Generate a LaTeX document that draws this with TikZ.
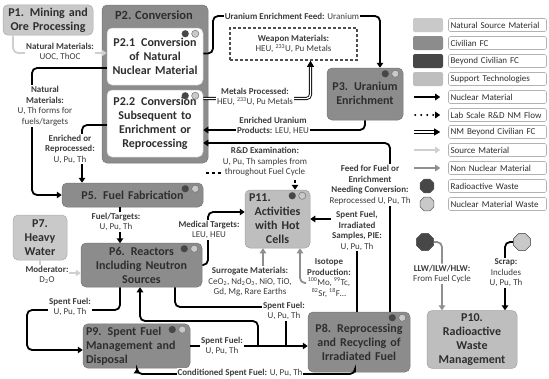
\documentclass[tikz,border=0pt]{standalone}
\usepackage{fontspec}
\setmainfont{Carlito}
\usepackage{xcolor}
\usepackage{tikz}
\usetikzlibrary{arrows.meta,shapes.geometric}

\definecolor{natsrc}{HTML}{C9C9C9}
\definecolor{civfc}{HTML}{8C8C8C}
\definecolor{beyondfc}{HTML}{474747}
\definecolor{supptech}{HTML}{BEBEBE}
\definecolor{srcmat}{HTML}{CFCFCF}
\definecolor{nonnuc}{HTML}{8F8F8F}
\definecolor{inktext}{HTML}{2E2E2E}
\definecolor{labeltext}{HTML}{3C3C3C}

% two status dots in the top right corner of a process box
\newcommand{\statusdots}[1]{%
	\fill[beyondfc] ([xshift=-18pt,yshift=-6pt]#1.north east) circle (3.6pt);
	\filldraw[fill=natsrc, draw=black!55, line width=0.5pt] ([xshift=-8pt,yshift=-6pt]#1.north east) circle (3.6pt);
}

\begin{document}
\begin{tikzpicture}[
		x=1pt, y=-1pt,
		box/.style={
			rounded corners=5pt,
			align=center,
			inner sep=3pt,
			line width=0.5pt,
			text=inktext,
			font=\fontsize{12}{14}\selectfont\bfseries
		},
		natbox/.style={box, fill=natsrc, draw=natsrc!85!black},
		civbox/.style={box, fill=civfc, draw=civfc!85!black},
		supbox/.style={box, fill=supptech, draw=supptech!85!black},
		subbox/.style={box, fill=white, draw=gray!45},
		lbl/.style={
			align=center,
			inner sep=1pt,
			fill=white,
			text=labeltext,
			font=\fontsize{9}{10.5}\selectfont
		},
		legtext/.style={
			draw=gray!60,
			rounded corners=2pt,
			fill=white,
			minimum height=13pt,
			text width=94pt,
			align=left,
			inner sep=2pt,
			line width=0.6pt,
			text=inktext,
			font=\fontsize{9}{10}\selectfont
		},
		swatch/.style={rounded corners=2pt, minimum width=30pt, minimum height=14pt, inner sep=0pt},
		wasteoct/.style={regular polygon, regular polygon sides=8, inner sep=0pt, draw=black!65, line width=0.6pt},
		nm/.style={-{Triangle[length=5pt,width=6.5pt]}, line width=1.8pt, rounded corners=5pt},
		nmline/.style={line width=1.8pt, rounded corners=5pt},
		nmbeyond/.style={-{Triangle[length=6pt,width=7pt]}, draw=black, double=white, double distance=1.3pt, line width=0.9pt, rounded corners=4pt},
		labflow/.style={-{Triangle[length=5pt,width=6.5pt]}, line width=1.8pt, dash pattern=on 3pt off 3pt},
		srcflow/.style={nm, draw=srcmat},
		nnflow/.style={nm, draw=nonnuc},
		nnline/.style={nmline, draw=nonnuc}
		]
		
		\useasboundingbox (0,0) rectangle (549,378);
		
		% Process boxes
		\node[natbox, text width=84pt, minimum height=30pt] (p1) at (48,20) {P1. Mining and\\Ore Processing};
		
		\node[civbox, minimum width=106pt, minimum height=158pt] (p2) at (155,84) {};
		\node[text=inktext, font=\fontsize{12.5}{14}\selectfont\bfseries, inner sep=0pt] (p2title) at (154,15) {P2. Conversion};
		\node[subbox, text width=90pt, minimum height=57pt] (p21) at (155,56.5) {P2.1\enspace Conversion\\of Natural\\Nuclear Material};
		\node[subbox, text width=90pt, minimum height=67pt] (p22) at (155,123.5) {P2.2\enspace Conversion\\Subsequent to\\Enrichment or\\Reprocessing};
		
		\node[draw=inktext!85, fill=white, line width=1.6pt, dash pattern=on 3pt off 2pt,
			minimum width=127pt, minimum height=32pt, align=center, inner sep=1pt,
			text=labeltext, font=\fontsize{9}{10.5}\selectfont] (wpn) at (293.5,44)
			{\textbf{Weapon Materials:}\\HEU, \textsuperscript{233}U, Pu Metals};
		
		\node[civbox, text width=70pt, minimum height=52pt] (p3) at (365,94) {\\[-7pt]P3. Uranium\\Enrichment};
		
		\node[civbox, text width=135pt, minimum height=24pt] (p5) at (132.5,195) {P5. Fuel Fabrication};
		\node[civbox, text width=115pt, minimum height=44pt] (p6) at (141.5,265) {P6. Reactors\\Including Neutron\\Sources};
		\node[natbox, text width=48pt, minimum height=45pt] (p7) at (40,237.5) {P7.\\Heavy\\Water};
		\node[supbox, text width=59pt, minimum height=58pt] (p11) at (277.5,219) {\makebox[57pt][l]{P11.}\\Activities\\with Hot\\Cells};
		\node[civbox, text width=101pt, minimum height=42pt, align=left] (p9) at (136.5,346) {P9. Spent Fuel\\Management and\\Disposal};
		\node[civbox, text width=96pt, minimum height=60pt] (p8) at (359,342) {P8. Reprocessing\\and Recycling of\\Irradiated Fuel};
		\node[supbox, text width=84pt, minimum height=55pt] (p10) at (472,339.5) {P10.\\Radioactive\\Waste\\Management};
		
		\statusdots{p21}
		\statusdots{p22}
		\statusdots{p3}
		\statusdots{p5}
		\statusdots{p6}
		\statusdots{p11}
		\statusdots{p9}
		\statusdots{p8}
		
		% Waste sources
		\node[wasteoct, fill=beyondfc, minimum size=18pt] (llw) at (425,242) {};
		\node[wasteoct, fill=natsrc, minimum size=18pt] (scrap) at (522,242) {};
		
		% Corner points
		\coordinate (feedtop) at (213,16);
		\coordinate (natcorner) at (32,130);
		\coordinate (medcorner) at (208,240);
		\coordinate (rdstart) at (206,173);
		\coordinate (sfcorner) at (27,310);
		\coordinate (sfjoin) at (258,346);
		\coordinate (sfdrop) at (286,346);
		\coordinate (backcorner) at (140,321);
		\coordinate (condcorner) at (137,374);
		\coordinate (surrtip) at ([xshift=-14.5pt]p11.south);
		
		% Connectors
		\draw[nm] ([yshift=3pt]p21.east) -| (feedtop) -| ([xshift=15pt]p3.north);
		\draw[nmbeyond] ([yshift=25pt]p22.east) -| ([xshift=17pt]wpn.south);
		\draw[nm] (p3.south) |- ([yshift=-6.5pt]p22.east);
		\draw[nm] ([xshift=31pt]p8.north) |- ([yshift=-19.5pt]p22.east);
		\draw[labflow] (rdstart) -| ([xshift=17.5pt]p11.north);
		\draw[srcflow] ([xshift=-35pt]p1.south) |- ([yshift=3.5pt]p21.west);
		\draw[nm] ([yshift=-11.5pt]p21.west) -| (natcorner) |- (p5.west);
		\draw[nm] ([yshift=-1.5pt]p22.west) -| ([xshift=-50.5pt]p5.north);
		\draw[nm] ([xshift=-12.5pt]p5.south) -- ++(0,36);
		\draw[srcflow] (p7.south) |- ([yshift=-8pt]p6.west);
		\draw[nm] (p6.east) -| (medcorner) |- ([yshift=7pt]p11.west);
		\draw[nm] ([xshift=-2pt]p8.north) |- (p11.east);
		\draw[nm] ([xshift=-21.5pt]p6.south) |- (sfcorner) |- ([yshift=-4pt]p9.west);
		\draw[nm] (p9.east) -- (p9.east -| p8.west);
		\draw[nm] (sfjoin) |- (backcorner) -- (backcorner |- p6.south);
		\draw[nm] ([xshift=-4pt]p8.south) |- (condcorner) -- (condcorner |- p9.south);
		
		% Labels
		\node[lbl] (feedlbl) at (292,16) {\textbf{Uranium Enrichment Feed:} Uranium};
		\node[lbl] (metlbl) at (255,97) {\textbf{Metals Processed:}\\HEU, \textsuperscript{233}U, Pu Metals};
		\node[lbl] (enrlbl) at (273,126) {\textbf{Enriched Uranium}\\\textbf{Products:} LEU, HEU};
		\node[lbl] (rdlbl) at (265,162) {\textbf{R\&D Examination:}\\U, Pu, Th samples from\\throughout Fuel Cycle};
		\node[lbl] (reflbl) at (370,185) {\textbf{Feed for Fuel or}\\\textbf{Enrichment}\\\textbf{Needing Conversion:}\\Reprocessed U, Pu, Th};
		\node[lbl] (uoclbl) at (60,52) {\textbf{Natural Materials:}\\UOC, ThOC};
		\node[lbl] (natlbl) at (45,106) {\textbf{Natural}\\\textbf{Materials:}\\U, Th forms for\\fuels/targets};
		\node[lbl] (erplbl) at (70,149) {\textbf{Enriched or}\\\textbf{Reprocessed:}\\U, Pu, Th};
		\node[lbl] (fuellbl) at (116,222) {\textbf{Fuel/Targets:}\\U, Pu, Th};
		\node[lbl] (medlbl) at (209,230) {\textbf{Medical Targets:}\\LEU, HEU};
		\node[lbl] (pielbl) at (357,231) {\textbf{Spent Fuel,}\\\textbf{Irradiated}\\\textbf{Samples, PIE:}\\U, Pu, Th};
		\node[lbl] (surr) at (250,282) {\textbf{Surrogate Materials:}\\CeO\textsubscript{2}, Nd\textsubscript{2}O\textsubscript{3}, NiO, TiO,\\Gd, Mg, Rare Earths};
		\node[lbl] (iso) at (329,278) {\textbf{Isotope}\\\textbf{Production:}\\\textsuperscript{100}Mo, \textsuperscript{99}Tc,\\\textsuperscript{82}Sr, \textsuperscript{18}F\ldots};
		\node[lbl] (modlbl) at (47,275) {\textbf{Moderator:}\\D\textsubscript{2}O};
		\node[lbl] (sf1lbl) at (70,307) {\textbf{Spent Fuel:}\\U, Pu, Th};
		\node[lbl] (sf2) at (284,311) {\textbf{Spent Fuel:}\\U, Pu, Th};
		\node[lbl] (sf3lbl) at (222,346) {\textbf{Spent Fuel:}\\U, Pu, Th};
		\node[lbl] (condlbl) at (240,373) {\textbf{Conditioned Spent Fuel:} U, Pu, Th};
		\node[lbl] (llwlbl) at (442,274) {\textbf{LLW/ILW/HLW:}\\From Fuel Cycle};
		\node[lbl] (scraplbl) at (506,273) {\textbf{Scrap:}\\Includes\\U, Pu, Th};
		
		% Connectors that end at labels
		\draw[nmline] ([xshift=33.5pt]p6.south) |- ([yshift=4pt]sf2.west);
		\draw[nmline] (sfdrop |- sf2.south) -- (sfdrop);
		\draw[nnflow] (surrtip |- surr.north) -- (surrtip);
		\draw[nnflow] ([yshift=-5pt]iso.west) -| ([xshift=22.5pt]p11.south);
		\draw[nnline] (llw) -| (llwlbl.north);
		\draw[nnflow] (llwlbl.south) -- (llwlbl.south |- p10.north);
		\draw[nmline] (scrap) -| ([xshift=-1pt]scraplbl.north);
		\draw[nm] ([xshift=-1pt]scraplbl.south) -- ([xshift=-1pt]scraplbl.south |- p10.north);
		\node[wasteoct, fill=beyondfc, minimum size=18pt] at (llw) {};
		\node[wasteoct, fill=natsrc, minimum size=18pt] at (scrap) {};
		
		% Legend
		\node[swatch, fill=natsrc] (swnat) at (428,25) {};
		\node[swatch, fill=civfc] (swciv) at (428,43) {};
		\node[swatch, fill=beyondfc] (swbey) at (428,61) {};
		\node[swatch, fill=supptech] (swsup) at (428,79) {};
		
		\node[legtext] (lgnat) at (497.5,25) {Natural Source Material};
		\node[legtext] (lgciv) at (497.5,43) {Civilian FC};
		\node[legtext] (lgbey) at (497.5,61) {Beyond Civilian FC};
		\node[legtext] (lgsup) at (497.5,79) {Support Technologies};
		\node[legtext] (lgnm) at (497.5,97) {Nuclear Material};
		\node[legtext] (lglab) at (497.5,115) {Lab Scale R\&D NM Flow};
		\node[legtext] (lgbnm) at (497.5,132) {NM Beyond Civilian FC};
		\node[legtext] (lgsrc) at (497.5,150) {Source Material};
		\node[legtext] (lgnon) at (497.5,168) {Non Nuclear Material};
		\node[legtext] (lgrw) at (497.5,186) {Radioactive Waste};
		\node[legtext] (lgnmw) at (497.5,204) {Nuclear Material Waste};
		
		\draw[nm] ([xshift=-34pt]lgnm.west) -- ([xshift=-8pt]lgnm.west);
		\draw[labflow, dash pattern=on 0pt off 6pt, line cap=round, line width=2.2pt] ([xshift=-33pt]lglab.west) -- ([xshift=-8pt]lglab.west);
		\draw[nmbeyond] ([xshift=-34pt]lgbnm.west) -- ([xshift=-8pt]lgbnm.west);
		\draw[srcflow] ([xshift=-34pt]lgsrc.west) -- ([xshift=-8pt]lgsrc.west);
		\draw[nnflow] ([xshift=-34pt]lgnon.west) -- ([xshift=-8pt]lgnon.west);
		\node[wasteoct, fill=beyondfc, minimum size=15pt] (octrw) at (427,186) {};
		\node[wasteoct, fill=natsrc, minimum size=15pt] (octnmw) at (427,204) {};
		
	\end{tikzpicture}
\end{document}
